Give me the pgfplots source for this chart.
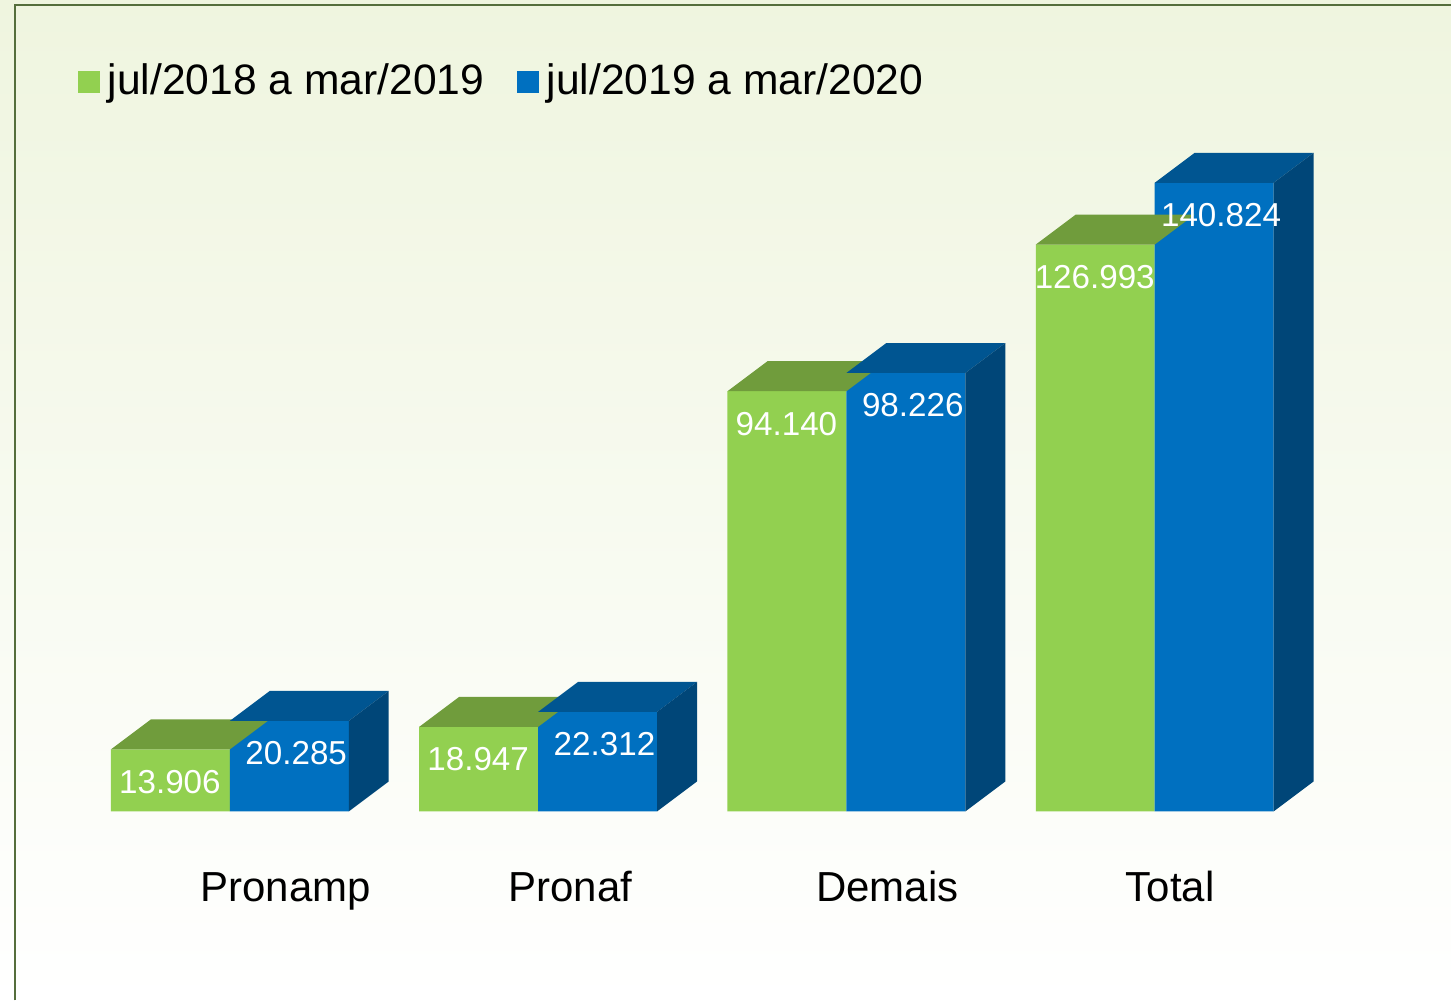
\documentclass[border=0pt]{standalone}
\usepackage{fontspec}
\setmainfont{Liberation Sans}
\usepackage{pgfplots}
\pgfplotsset{compat=1.18}
\usepackage{pgfplotstable}
\definecolor{gfront}{HTML}{92D050}
\definecolor{gtop}{HTML}{709C3C}
\definecolor{bfront}{HTML}{0070C0}
\definecolor{btop}{HTML}{005591}
\definecolor{bside}{HTML}{004678}
\definecolor{bgtop}{HTML}{EFF5DF}
\definecolor{framec}{HTML}{556E3C}
\pgfdeclareplotmark{nothing}{}
\newdimen\hhdim

\pgfplotstableread{
x y
0 13.906
1 18.947
2 94.140
3 126.993
}\greendata
\pgfplotstableread{
x y
0 20.285
1 22.312
2 98.226
3 140.824
}\bluedata

\begin{document}
\begin{tikzpicture}
\begin{axis}[
  set layers,
  x=77.125pt, y=1.11675pt,
  xmin=-0.74554, xmax=3.96110, ymin=-42.31, ymax=181.78,
  axis line style={draw=none},
  xtick=\empty, ytick=\empty,
  clip=false,
  axis background/.style={shade, top color=bgtop, bottom color=white},
  legend columns=2,
  legend style={draw=none, fill=none, at={(rel axis cs:0.0531,0.918)}, anchor=west,
    font=\fontsize{10.65}{12}\selectfont, inner sep=0pt,
    /tikz/every even column/.append style={column sep=6.2pt}},
]
% green top faces, drawn beneath everything else so the blue bar hides what lies behind it
\addplot[forget plot, on layer=axis grid, scatter, only marks, mark=nothing, point meta=explicit symbolic,
  scatter/@pre marker code/.code={%
    \pgfscope
    \pgfsetfillcolor{gtop}%
    \pgfpathmoveto{\pgfqpoint{-29.75pt}{0pt}}%
    \pgfpathlineto{\pgfqpoint{0pt}{0pt}}%
    \pgfpathlineto{\pgfqpoint{10pt}{7.5pt}}%
    \pgfpathlineto{\pgfqpoint{-19.75pt}{7.5pt}}%
    \pgfpathclose\pgfusepath{fill}%
  },
  scatter/@post marker code/.code={\endpgfscope}]
  table[x=x,y=y,meta=y] {\greendata};
% green front faces
\addplot[ybar, bar width=29.75pt, bar shift=-14.875pt, fill=gfront, draw=none,
  legend image code/.code={\fill[gfront] (0pt,-2.75pt) rectangle (5.5pt,2.75pt);}]
  table[x=x,y=y] {\greendata};
\addlegendentry{jul/2018 a mar/2019}
% blue front faces
\addplot[ybar, bar width=29.75pt, bar shift=14.875pt, fill=bfront, draw=none,
  legend image code/.code={\fill[bfront] (0pt,-2.75pt) rectangle (5.5pt,2.75pt);}]
  table[x=x,y=y] {\bluedata};
\addlegendentry{jul/2019 a mar/2020}
% blue top and side faces
\addplot[forget plot, scatter, only marks, mark=nothing, point meta=explicit symbolic,
  scatter/@pre marker code/.code={%
    \pgfscope
    \hhdim=\pgfplotspointmeta pt \hhdim=1.11675\hhdim
    \pgfsetfillcolor{btop}%
    \pgfpathmoveto{\pgfqpoint{0pt}{0pt}}%
    \pgfpathlineto{\pgfqpoint{29.75pt}{0pt}}%
    \pgfpathlineto{\pgfqpoint{39.75pt}{7.5pt}}%
    \pgfpathlineto{\pgfqpoint{10pt}{7.5pt}}%
    \pgfpathclose\pgfusepath{fill}%
    \pgfsetfillcolor{bside}%
    \pgfpathmoveto{\pgfqpoint{29.75pt}{0pt}}%
    \pgfpathlineto{\pgfqpoint{39.75pt}{7.5pt}}%
    \pgfpathlineto{\pgfqpoint{39.75pt}{\dimexpr7.5pt-\hhdim\relax}}%
    \pgfpathlineto{\pgfqpoint{29.75pt}{-\hhdim}}%
    \pgfpathclose\pgfusepath{fill}%
  },
  scatter/@post marker code/.code={\endpgfscope}]
  table[x=x,y=y,meta=y] {\bluedata};
% value labels
\addplot[forget plot, draw=none, mark=none, point meta=explicit symbolic,
  nodes near coords,
  every node near coord/.append style={font=\fontsize{8.3}{10}\selectfont, text=white,
    anchor=base, xshift=-15.0pt, yshift=-11pt}]
  table[x=x,y=y,meta=y] {\greendata};
\addplot[forget plot, draw=none, mark=none, point meta=explicit symbolic,
  nodes near coords,
  every node near coord/.append style={font=\fontsize{8.3}{10}\selectfont, text=white,
    anchor=base, xshift=16.6pt, yshift=-11pt}]
  table[x=x,y=y,meta=y] {\bluedata};
% frame
\draw[framec, line width=0.5pt] (rel axis cs:0.01033,0) -- (rel axis cs:0.01033,0.995) -- (rel axis cs:1,0.995);
% category labels
\node[font=\fontsize{10.5}{12}\selectfont, anchor=base] at (axis cs:0.1815,-20.15) {Pronamp};
\node[font=\fontsize{10.5}{12}\selectfont, anchor=base] at (axis cs:1.105,-20.15) {Pronaf};
\node[font=\fontsize{10.5}{12}\selectfont, anchor=base] at (axis cs:2.133,-20.15) {Demais};
\node[font=\fontsize{10.5}{12}\selectfont, anchor=base] at (axis cs:3.050,-20.15) {Total};
\end{axis}
\end{tikzpicture}
\end{document}
